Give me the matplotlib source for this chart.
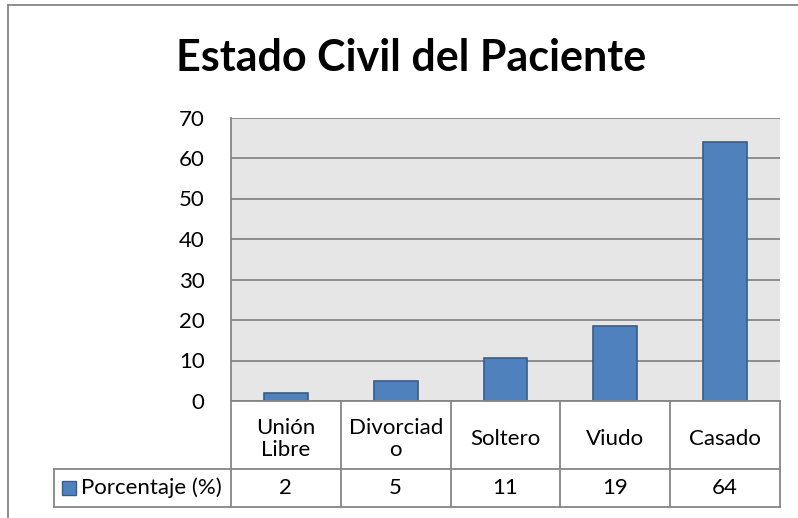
import matplotlib

matplotlib.use("Agg")
import matplotlib.pyplot as plt
from matplotlib.lines import Line2D
from matplotlib.patches import Rectangle

plt.rcParams["font.family"] = ["Lato", "DejaVu Sans"]

# data
categories = ["Unión Libre", "Divorciado", "Soltero", "Viudo", "Casado"]
cell_labels = ["Unión\nLibre", "Divorciad\no", "Soltero", "Viudo", "Casado"]
porcentaje = [1.9, 5.0, 10.6, 18.6, 63.9]
series_name = "Porcentaje (%)"
y_ticks = [0, 10, 20, 30, 40, 50, 60, 70]

BAR = "#4F81BD"
BAR_EDGE = "#385D8A"
GRID = "#868686"
PLOT_BG = "#E6E6E6"
W, H = 798, 518
FS = 16


def fx(px):
    return px / W


def fy(py):
    return 1 - py / H


fig = plt.figure(figsize=(W / 100, H / 100), dpi=100)

# outer chart frame (left + top only visible)
fig.add_artist(Line2D([fx(8), fx(8)], [fy(5), 0], color=GRID, lw=1.3, transform=fig.transFigure))
fig.add_artist(Line2D([fx(8), 1], [fy(5), fy(5)], color=GRID, lw=1.3, transform=fig.transFigure))

fig.text(fx(411), fy(58), "Estado Civil del Paciente", ha="center", va="center",
         fontsize=31, fontweight="bold")

# plot area
ax = fig.add_axes([fx(231), fy(401), fx(780) - fx(231), fy(117.5) - fy(401)])
ax.set_facecolor(PLOT_BG)
x = list(range(len(categories)))
ax.bar(x, porcentaje, width=0.4, color=BAR, edgecolor=BAR_EDGE, linewidth=1.2, zorder=3)
ax.set_xlim(-0.5, len(categories) - 0.5)
ax.set_ylim(0, 70)
ax.set_yticks(y_ticks)
ax.yaxis.grid(True, color=GRID, linewidth=1.3, zorder=1)
ax.set_axisbelow(True)
ax.set_xticks([])
ax.tick_params(axis="y", length=0, pad=19, labelsize=FS)
for side in ["top", "right", "bottom"]:
    ax.spines[side].set_visible(False)
ax.spines["left"].set_color(GRID)
ax.spines["left"].set_linewidth(1.3)

# data table below the plot
col_px = (780 - 231) / len(categories)
left_edge = -0.5 - (231 - 54) / col_px
tab = fig.add_axes([fx(54), fy(507), fx(780) - fx(54), fy(401) - fy(507)])
tab.set_xlim(left_edge, len(categories) - 0.5)
tab.set_ylim(0, 106)
tab.axis("off")
row_split = 38
line_kw = dict(color=GRID, lw=1.3, clip_on=False)
tab.plot([-0.5, len(categories) - 0.5], [106, 106], **line_kw)
tab.plot([left_edge, len(categories) - 0.5], [row_split, row_split], **line_kw)
tab.plot([left_edge, len(categories) - 0.5], [0, 0], **line_kw)
tab.plot([left_edge, left_edge], [0, row_split], **line_kw)
for i in range(len(categories) + 1):
    tab.plot([i - 0.5, i - 0.5], [0, 106], **line_kw)

for i, (lab, v) in enumerate(zip(cell_labels, porcentaje)):
    tab.text(i, (row_split + 106) / 2 - 4, lab, ha="center", va="center",
             fontsize=FS, linespacing=1.15)
    tab.text(i, row_split / 2, f"{v:.0f}", ha="center", va="center", fontsize=FS)

# legend key in the table
tab.add_patch(Rectangle((left_edge + 8 / col_px, row_split / 2 - 7), 14 / col_px, 14,
                        facecolor=BAR, edgecolor=BAR_EDGE, lw=1.0, clip_on=False))
tab.text(left_edge + 27 / col_px, row_split / 2, series_name, ha="left", va="center",
         fontsize=FS)

fig.savefig("out.png", dpi=100)
plt.close(fig)
